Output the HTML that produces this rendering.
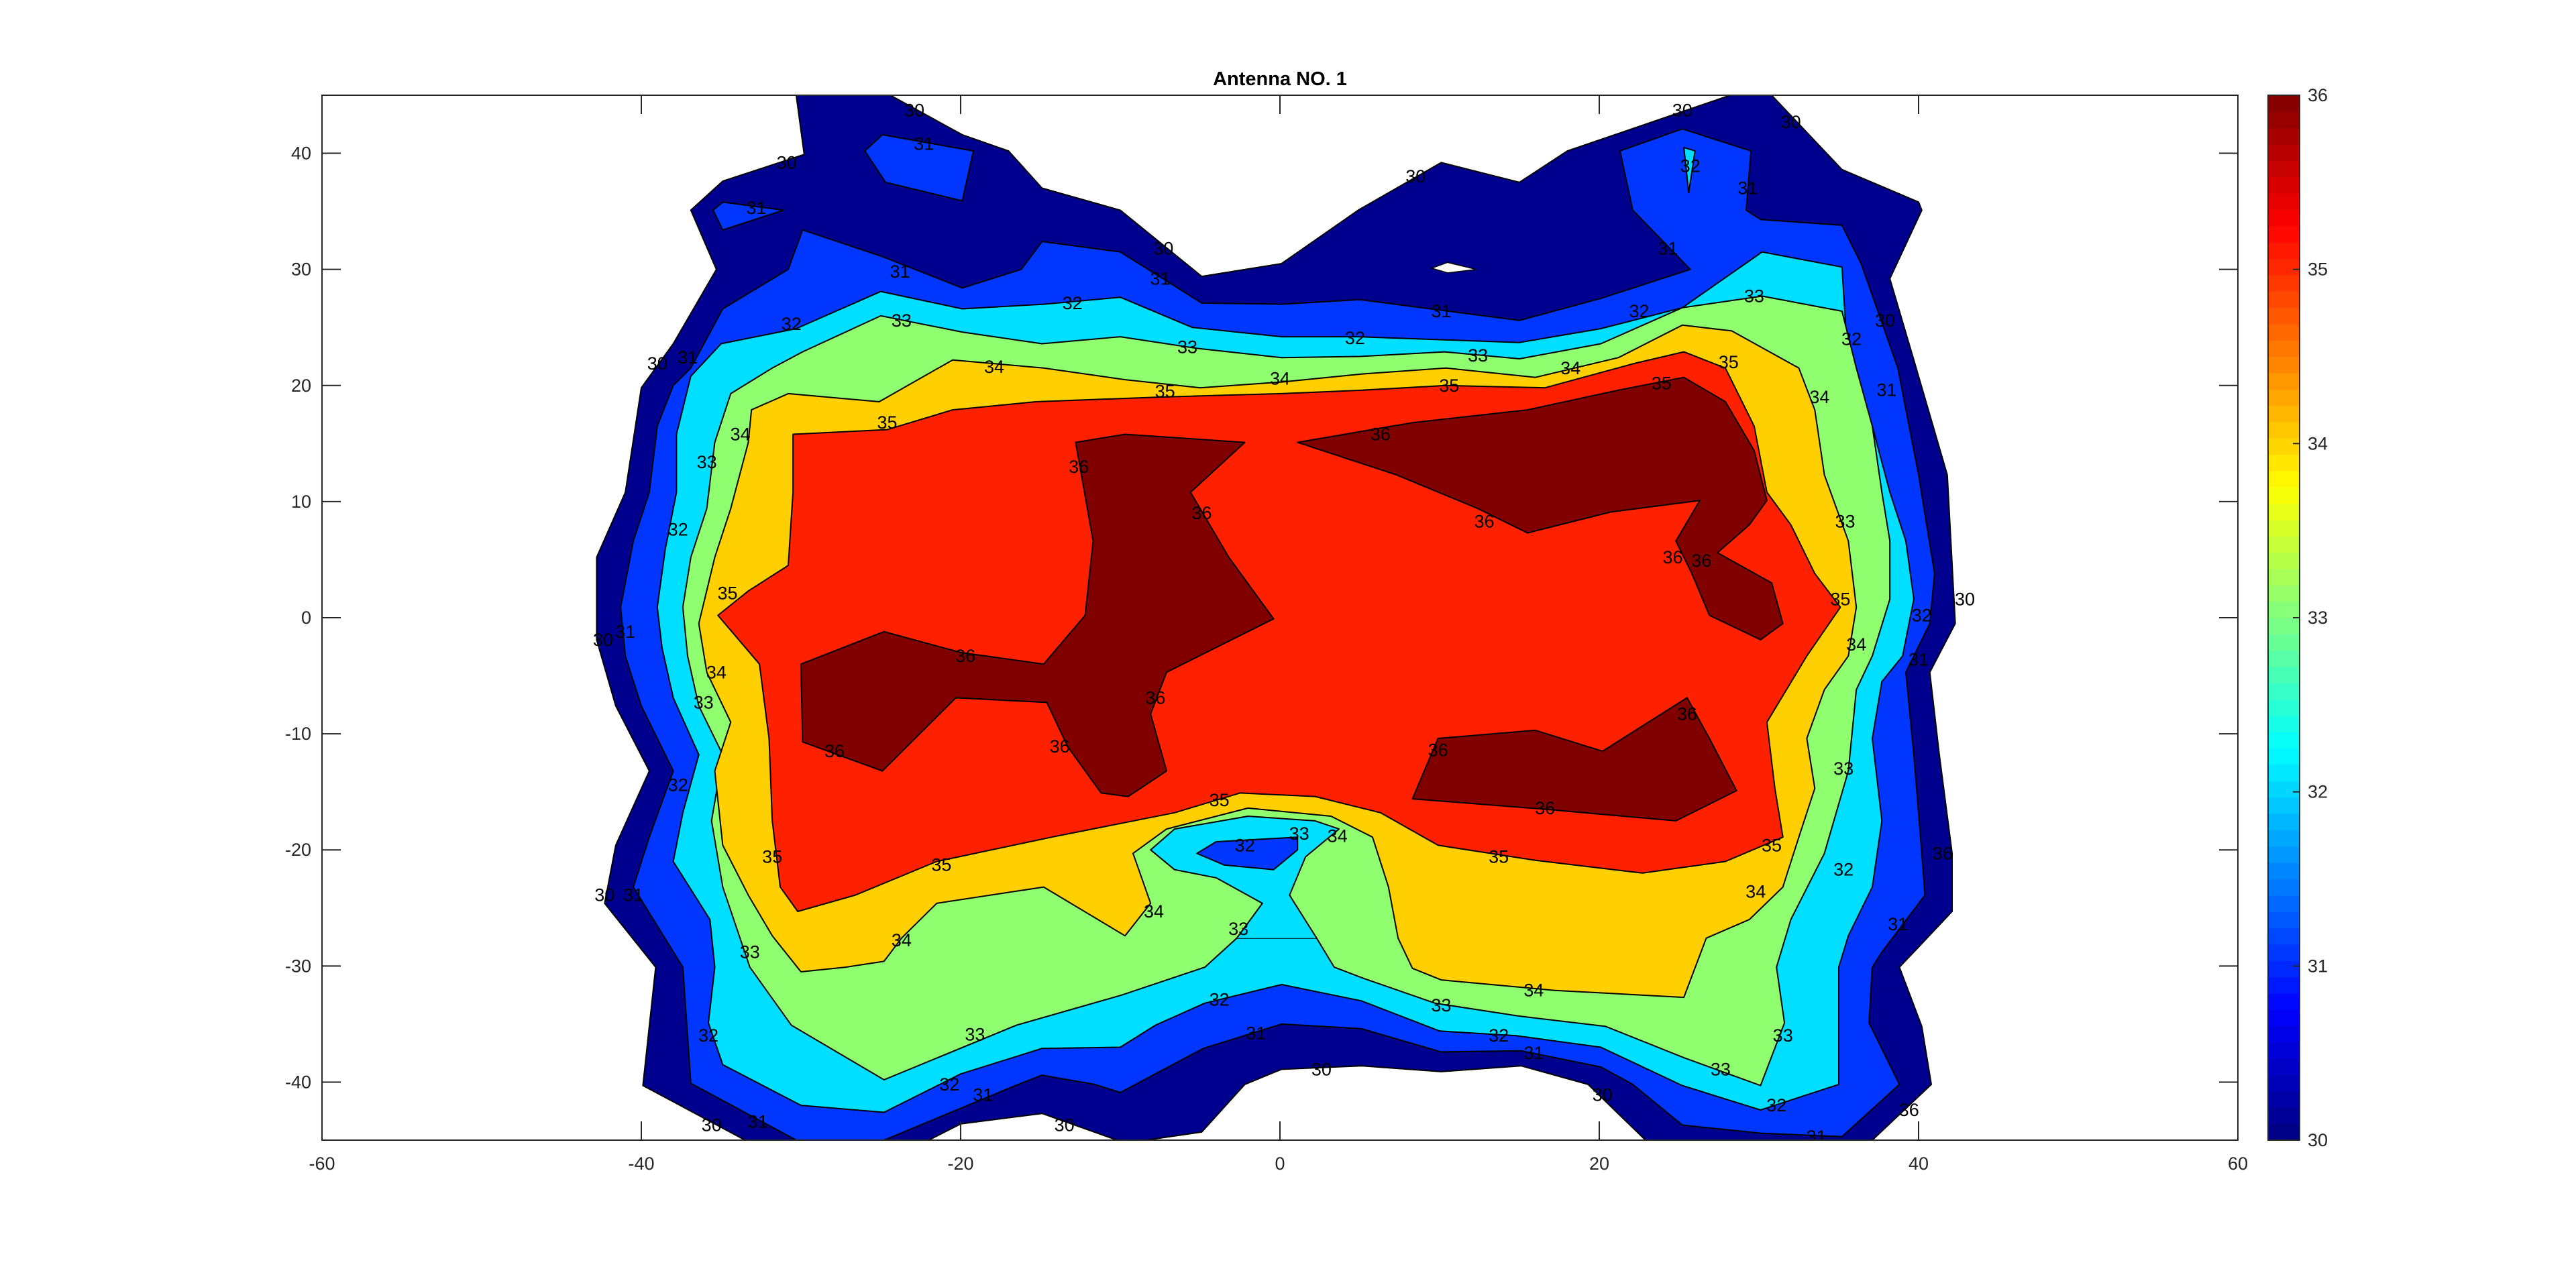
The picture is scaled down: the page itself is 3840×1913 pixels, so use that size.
<!DOCTYPE html>
<html><head><meta charset="utf-8"><title>Antenna NO. 1</title>
<style>
html,body{margin:0;padding:0;background:#fff;}
svg{display:block;font-family:"Liberation Sans",Arial,sans-serif;}
</style></head>
<body>
<svg id="chart" width="3840" height="1913" viewBox="0 0 3840 1913" xmlns="http://www.w3.org/2000/svg">
<rect width="3840" height="1913" fill="#fff"/>
<defs>
<clipPath id="plotclip"><rect x="480" y="142" width="2856" height="1558"/></clipPath>
</defs>
<g id="contours" clip-path="url(#plotclip)"></g>
<g id="clabels" clip-path="url(#plotclip)"></g>
<g id="axes"></g>
<g id="cbar"></g>
<text x="1908" y="127" text-anchor="middle" font-size="29" font-weight="bold" fill="#000">Antenna NO. 1</text>
</svg>
<script>
// ---- data (x: degrees, y: degrees) ----
const levels = [30,31,32,33,34,35,36];
const levelColors = ["#00008F","#0036FF","#00DFFF","#8FFF70","#FFCF00","#FF2000","#800000"];
const xTicks = [-60,-40,-20,0,20,40,60];
const yTicks = [-40,-30,-20,-10,0,10,20,30,40];
const cbTicks = [30,31,32,33,34,35,36];

const region30 = [[-30.3,45],[-24.4,45],[-19.9,41.6],[-17.0,40.2],[-14.9,37.0],[-10.0,35.1],[-4.9,29.4],[0.1,30.5],[4.9,35.1],[10.1,39.2],[15.0,37.5],[18.0,40.2],[28.2,45],[30.8,45],[35.2,38.6],[40.0,35.8],[40.2,35.1],[38.2,29.2],[39.7,22.2],[41.8,12.3],[42.3,-0.5],[40.7,-4.7],[41.3,-11.8],[42.1,-20.3],[42.1,-25.3],[39.7,-28.8],[38.8,-30.1],[40.2,-35.2],[40.8,-40.2],[37.1,-45],[22.9,-45],[19.3,-40.2],[15.1,-38.6],[10.1,-39.1],[5.1,-38.6],[0.1,-38.9],[-2.2,-40.2],[-4.9,-44.3],[-8.4,-45],[-10.2,-45],[-14.9,-42.7],[-20.0,-43.6],[-22.0,-45],[-33.5,-45],[-39.9,-40.3],[-39.1,-30.1],[-42.3,-24.6],[-41.6,-19.6],[-39.5,-13.2],[-41.6,-7.6],[-42.8,-1.9],[-42.8,5.2],[-41.0,10.8],[-40.0,19.8],[-38.0,23.6],[-35.3,30.0],[-36.9,35.1],[-34.9,37.6],[-29.8,39.9]];
const region31 = [[-29.9,33.4],[-24.9,31.1],[-19.9,28.4],[-16.2,30.0],[-14.9,32.4],[-10.0,31.5],[-4.9,27.1],[0.1,27.0],[5.0,27.4],[15.0,25.6],[20.1,27.5],[25.7,30.0],[22.1,35.1],[21.3,40.2],[25.2,42.1],[29.5,40.2],[29.2,35.1],[30.1,34.3],[35.2,33.8],[36.4,30.5],[38.7,21.5],[40.0,12.3],[41.0,3.8],[40.7,-0.5],[39.2,-4.7],[39.7,-11.8],[40.2,-20.3],[40.4,-23.9],[37.7,-28.8],[37.1,-30.1],[36.9,-34.9],[38.8,-40.2],[35.2,-44.7],[30.1,-44.4],[25.2,-43.7],[22.1,-40.2],[20.1,-38.7],[15.1,-37.3],[10.1,-37.4],[5.1,-35.4],[0.1,-35.0],[-4.8,-37.1],[-10.0,-40.9],[-11.6,-40.2],[-14.9,-39.4],[-16.4,-40.2],[-24.8,-45],[-30.3,-45],[-36.9,-40.1],[-37.4,-30.1],[-40.5,-23.2],[-39.5,-18.9],[-38.0,-13.2],[-40.0,-7.6],[-41.0,-3.3],[-41.3,0.9],[-40.5,6.6],[-39.5,10.8],[-39.0,16.5],[-38.0,20.0],[-36.9,21.5],[-34.9,26.6],[-30.8,30.0]];
const island31a = [[-26.0,40.2],[-24.9,41.6],[-19.2,40.2],[-19.9,35.9],[-24.7,37.5]];
const island31b = [[-35.5,35.1],[-34.9,35.8],[-31.1,35.1],[-34.9,33.4]];
const island32top = [[25.3,40.5],[26.0,40.2],[25.6,36.6]];
const region32 = [[-35.0,23.6],[-30.3,24.9],[-25.0,28.1],[-19.9,26.6],[-14.8,27.0],[-10.0,27.6],[-5.5,25.0],[0.1,24.2],[4.9,24.2],[15.0,23.7],[20.1,24.9],[25.2,26.7],[30.2,31.5],[35.2,30.2],[35.6,21.5],[37.1,16.5],[38.2,10.8],[39.2,6.6],[39.7,1.6],[39.0,-3.3],[37.7,-5.5],[37.1,-10.4],[37.7,-17.5],[37.1,-23.2],[35.6,-27.4],[35.0,-30.1],[35.0,-40.2],[30.1,-42.4],[25.2,-40.3],[20.1,-37.0],[14.8,-36.0],[10.0,-35.6],[5.1,-33.0],[0.1,-31.6],[-4.7,-33.2],[-7.8,-35.1],[-10.0,-37.0],[-14.9,-37.1],[-20.0,-39.3],[-24.8,-42.6],[-30.0,-42.0],[-34.9,-38.5],[-35.8,-34.9],[-35.4,-30.1],[-35.7,-26.0],[-38.0,-21.0],[-37.4,-16.8],[-36.4,-11.8],[-38.0,-6.9],[-38.7,-2.6],[-39.0,0.9],[-38.5,5.9],[-37.8,10.8],[-37.8,15.8],[-36.9,20.8]];
const region33 = [[-29.9,22.9],[-25.0,26.0],[-19.9,24.6],[-14.9,23.6],[-10.0,24.2],[-5.2,23.2],[0.1,22.4],[5.0,22.5],[10.3,22.9],[15.0,22.3],[20.1,23.6],[25.2,26.7],[30.2,27.7],[35.2,26.4],[36.1,21.5],[37.1,16.5],[37.7,10.8],[38.2,6.6],[38.2,1.6],[37.1,-3.3],[36.1,-6.2],[35.6,-13.2],[34.1,-20.3],[32.0,-26.0],[31.1,-30.1],[31.6,-34.9],[30.1,-40.3],[25.3,-37.9],[20.4,-35.2],[14.9,-34.3],[9.7,-33.2],[5.1,-31.0],[3.4,-30.1],[2.3,-27.6],[-2.7,-27.6],[-4.7,-30.1],[-9.9,-32.5],[-16.5,-35.1],[-24.8,-39.8],[-30.6,-35.1],[-33.2,-30.1],[-34.9,-23.2],[-35.6,-17.5],[-34.9,-11.8],[-36.4,-7.6],[-37.1,-3.3],[-37.4,0.9],[-36.9,5.2],[-35.9,9.4],[-35.4,15.1],[-34.4,19.3],[-31.8,21.5]];
const region34 = [[-33.1,17.9],[-30.8,19.3],[-25.1,18.6],[-20.5,22.2],[-14.8,21.5],[-9.7,20.5],[-5.0,19.8],[0.1,20.3],[5.2,21.0],[10.4,21.5],[16.0,20.7],[21.2,22.4],[25.2,25.2],[28.3,24.7],[32.5,21.5],[33.5,17.9],[34.1,12.3],[35.6,6.6],[36.1,0.9],[35.6,-3.3],[34.1,-6.2],[33.0,-10.4],[33.5,-14.7],[32.5,-18.9],[31.5,-23.2],[29.4,-26.0],[26.7,-27.6],[25.3,-32.7],[17.2,-32.1],[10.1,-31.2],[8.3,-30.2],[7.4,-27.6],[6.8,-23.2],[5.8,-18.9],[3.2,-17.1],[-2.0,-16.4],[-7.1,-18.2],[-9.2,-20.3],[-8.1,-24.6],[-9.7,-27.4],[-14.8,-23.2],[-21.5,-24.6],[-23.7,-27.6],[-24.8,-29.6],[-27.2,-30.1],[-30.0,-30.5],[-31.8,-27.4],[-33.3,-23.9],[-34.9,-19.6],[-35.4,-13.2],[-34.4,-9.0],[-35.9,-4.7],[-36.4,-0.5],[-35.4,5.2],[-34.4,9.4],[-33.3,15.1]];
const loop32 = [[-8.1,-20.0],[-6.6,-18.2],[-2.0,-17.1],[2.2,-17.5],[3.7,-18.2],[1.6,-20.6],[0.6,-23.9],[2.3,-27.6],[-2.7,-27.6],[-1.1,-24.6],[-4.0,-22.4],[-6.6,-21.7]];
const island31c = [[-5.2,-20.3],[-4.0,-19.3],[1.1,-18.9],[1.1,-20.0],[-0.4,-21.7],[-3.5,-21.3]];
const region35 = [[-30.5,15.8],[-24.6,16.2],[-20.5,17.9],[-15.3,18.6],[-7.6,19.0],[0.1,19.3],[5.2,19.6],[10.4,20.0],[16.6,19.8],[22.2,21.9],[25.3,22.9],[27.9,21.5],[29.7,16.5],[30.5,10.8],[32.0,8.0],[33.5,3.8],[35.1,0.9],[33.0,-3.3],[30.5,-9.0],[31.0,-14.7],[31.5,-18.9],[27.9,-21.0],[22.7,-22.0],[16.0,-20.9],[9.9,-19.6],[6.3,-16.8],[2.2,-15.4],[-2.5,-15.1],[-6.6,-16.8],[-14.3,-18.9],[-21.5,-21.0],[-26.6,-23.9],[-30.2,-25.3],[-31.3,-23.2],[-31.8,-17.5],[-32.0,-10.4],[-32.6,-4.0],[-35.2,0.2],[-33.3,2.3],[-30.8,4.5],[-30.5,10.8]];
const island36a = [[-12.8,15.1],[-9.7,15.8],[-2.2,15.1],[-5.6,10.8],[-3.2,5.2],[-0.4,-0.1],[-7.1,-4.7],[-8.1,-8.3],[-7.1,-13.2],[-9.5,-15.4],[-11.2,-15.1],[-13.3,-11.1],[-14.6,-7.3],[-20.3,-6.9],[-24.9,-13.2],[-27.7,-11.8],[-29.9,-10.7],[-30.0,-4.0],[-24.8,-1.2],[-20.0,-3.0],[-14.8,-4.0],[-12.2,0.2],[-11.7,6.6]];
const island36b = [[1.1,15.1],[8.3,16.8],[15.5,17.9],[21.2,19.6],[25.3,20.7],[27.9,18.6],[29.7,14.4],[30.5,10.1],[29.4,8.0],[27.4,5.6],[30.8,3.0],[31.5,-0.5],[30.1,-1.9],[26.9,0.2],[25.8,3.8],[24.8,6.6],[26.3,10.1],[20.7,9.1],[15.5,7.3],[12.4,9.4],[7.3,12.3]];
const island36c = [[9.9,-10.4],[16.0,-9.7],[20.2,-11.5],[25.5,-6.9],[26.9,-10.4],[28.6,-14.9],[24.8,-17.5],[16.6,-16.5],[8.3,-15.6]];

const fillOrder = [
  {name:"level-30-region", pts:region30, lev:30, open:false},
  {name:"level-31-region", pts:region31, lev:31, open:false},
  {name:"level-31-island-a", pts:island31a, lev:31, open:false},
  {name:"level-31-island-b", pts:island31b, lev:31, open:false},
  {name:"level-32-island-top", pts:island32top, lev:32, open:false},
  {name:"level-32-region", pts:region32, lev:32, open:false},
  {name:"level-33-region", pts:region33, lev:33, open:false},
  {name:"level-34-region", pts:region34, lev:34, open:false},
  {name:"level-35-region", pts:region35, lev:35, open:false},
  {name:"level-32-loop", pts:loop32, lev:32, open:true},
  {name:"level-31-island-c", pts:island31c, lev:31, open:false},
  {name:"level-36-island-a", pts:island36a, lev:36, open:false},
  {name:"level-36-island-b", pts:island36b, lev:36, open:false},
  {name:"level-36-island-c", pts:island36c, lev:36, open:false}
];

const labelX = [-22.9,-30.9,-22.3,-32.8,8.5,-7.3,-23.8,-7.5,10.1,25.2,32.0,25.7,29.3,24.3,-30.6,-13.0,-23.7,-5.8,4.7,12.4,22.5,29.7,-17.9,0.0,18.2,-7.2,10.6,28.1,23.9,33.8,35.8,37.9,38.0,6.3,-24.6,-33.8,-35.9,-37.1,-39.0,-37.7,-34.6,-41.0,-42.4,-35.3,-36.1,-37.7,-19.7,-27.9,-12.6,-4.9,12.8,24.6,26.4,-13.8,-7.8,35.1,40.2,42.9,35.4,36.1,40.0,35.3,25.5,9.9,16.6,-3.8,30.8,13.7,-21.2,-31.8,-2.2,1.2,3.6,-7.9,-23.7,-2.6,29.8,35.3,41.5,-42.3,-40.5,-33.2,38.7,15.9,10.1,-3.8,-19.1,13.7,15.9,-1.5,2.6,-35.8,31.5,27.6,-20.7,-18.6,20.2,31.1,39.4,-35.6,-32.7,-13.5,33.6];
const labelY = [43.7,39.2,40.8,35.3,38.0,31.8,29.8,29.2,26.4,43.7,42.7,38.9,37.0,31.8,25.3,27.1,25.6,23.3,24.1,22.6,26.4,27.7,21.6,20.6,21.5,19.5,20.0,22.0,20.2,19.0,24.0,25.6,19.6,15.8,16.8,15.8,13.4,22.4,21.9,7.6,2.1,-1.2,-1.9,-4.7,-7.3,-14.4,-3.3,-11.5,13.0,9.0,8.3,5.2,4.9,-11.1,-6.9,1.6,0.2,1.6,8.3,-2.3,-3.6,-13.0,-8.3,-11.4,-16.4,-15.7,-19.6,-20.6,-21.3,-20.6,-19.6,-18.6,-18.8,-25.3,-27.8,-26.8,-23.6,-21.7,-20.3,-23.9,-23.9,-28.8,-26.4,-32.1,-33.4,-32.9,-35.9,-36.0,-37.5,-35.8,-38.9,-36.0,-36.0,-38.9,-40.2,-41.1,-41.1,-42.0,-42.4,-43.7,-43.4,-43.7,-44.7];
const labelVal = [30,30,31,31,30,30,31,31,31,30,30,32,31,31,32,32,33,33,32,33,32,33,34,34,34,35,35,35,35,34,32,30,31,36,35,34,33,31,30,32,35,31,30,34,33,32,36,36,36,36,36,36,36,36,36,35,32,30,33,34,31,33,36,36,36,35,35,35,35,35,32,33,34,34,34,33,34,32,36,30,31,33,31,34,33,32,33,32,31,31,30,32,33,33,32,31,30,32,36,30,31,30,31];

// ---- scales ----
const PL=480, PR=3336, PT=142, PB=1700;
function sx(v){ return PL + (v+60)/120*(PR-PL); }
function sy(v){ return PB - (v+45)/90*(PB-PT); }
function colorOf(lev){ return levelColors[levels.indexOf(lev)]; }
const NS="http://www.w3.org/2000/svg";
function mk(tag, attrs, parent){ const e=document.createElementNS(NS,tag); for(const k in attrs) e.setAttribute(k, attrs[k]); parent.appendChild(e); return e; }
function ptsStr(a){ return a.map(q=>sx(q[0]).toFixed(1)+","+sy(q[1]).toFixed(1)).join(" "); }

// ---- fills ----
const gC=document.getElementById("contours");
fillOrder.forEach(r=>{
  const p = mk("polygon",{points:ptsStr(r.pts),fill:colorOf(r.lev),stroke:r.open?"none":"#000","stroke-width":"2","stroke-linejoin":"round"},gC);
  
  
  if(r.open){
    const a=r.pts;
    const k=7; // skip segment between index 7 and 8 (bottom of stem)
    const seq1=a.slice(0,k+1);
    const seq2=a.slice(k+1);
    const l1=mk("polyline",{points:ptsStr(seq2.concat(seq1)),fill:"none",stroke:"#000","stroke-width":"2","stroke-linejoin":"round"},gC);
    
    
  }
});
// tiny white hole near top
const hole=mk("polygon",{points:ptsStr([[9.5,30.1],[10.5,30.6],[12.3,30.0],[10.5,29.7]]),fill:"#fff",stroke:"#000","stroke-width":"1.5"},gC);



// ---- contour labels ----
const gL=document.getElementById("clabels");
for(let i=0;i<labelVal.length;i++){
  const t=mk("text",{x:sx(labelX[i]).toFixed(1),y:(sy(labelY[i])+9).toFixed(1),"text-anchor":"middle","font-size":"27",fill:"#000"},gL);
  t.textContent=labelVal[i];
  
  
}

// ---- axes ----
const gA=document.getElementById("axes");
const box=mk("rect",{x:PL,y:PT,width:PR-PL,height:PB-PT,fill:"none",stroke:"#262626","stroke-width":"2"},gA);


xTicks.forEach(v=>{
  const X=sx(v);
  mk("line",{x1:X,y1:PB,x2:X,y2:PB-28,stroke:"#262626","stroke-width":"2"},gA);
  mk("line",{x1:X,y1:PT,x2:X,y2:PT+28,stroke:"#262626","stroke-width":"2"},gA);
  const t=mk("text",{x:X,y:PB+44,"text-anchor":"middle","font-size":"27",fill:"#262626"},gA);
  t.textContent=v;
  
  
});
yTicks.forEach(v=>{
  const Y=sy(v);
  mk("line",{x1:PL,y1:Y,x2:PL+28,y2:Y,stroke:"#262626","stroke-width":"2"},gA);
  mk("line",{x1:PR,y1:Y,x2:PR-28,y2:Y,stroke:"#262626","stroke-width":"2"},gA);
  const t=mk("text",{x:PL-16,y:Y+9,"text-anchor":"end","font-size":"27",fill:"#262626"},gA);
  t.textContent=v;
  
  
});

// ---- colorbar ----
const gB=document.getElementById("cbar");
const CBL=3381, CBR=3428;
function cy(v){ return PB - (v-30)/6*(PB-PT); }
function jet(f){
  const r=Math.min(Math.max(Math.min(4*f-1.5,-4*f+4.5),0),1);
  const g=Math.min(Math.max(Math.min(4*f-0.5,-4*f+3.5),0),1);
  const b=Math.min(Math.max(Math.min(4*f+0.5,-4*f+2.5),0),1);
  return "rgb("+Math.round(r*255)+","+Math.round(g*255)+","+Math.round(b*255)+")";
}
for(let i=0;i<64;i++){
  const y0=cy(30+6*i/64), y1=cy(30+6*(i+1)/64);
  mk("rect",{x:CBL,y:y1,width:CBR-CBL,height:(y0-y1+0.6),fill:jet((i+0.5)/64)},gB);
}
const cbf=mk("rect",{x:CBL,y:PT,width:CBR-CBL,height:PB-PT,fill:"none",stroke:"#262626","stroke-width":"2"},gB);


cbTicks.forEach(v=>{
  const Y=cy(v);
  mk("line",{x1:CBR,y1:Y,x2:CBR-10,y2:Y,stroke:"#262626","stroke-width":"2"},gB);
  const t=mk("text",{x:CBR+12,y:Y+9,"font-size":"27",fill:"#262626"},gB);
  t.textContent=v;
  
  
});
</script>
</body></html>
